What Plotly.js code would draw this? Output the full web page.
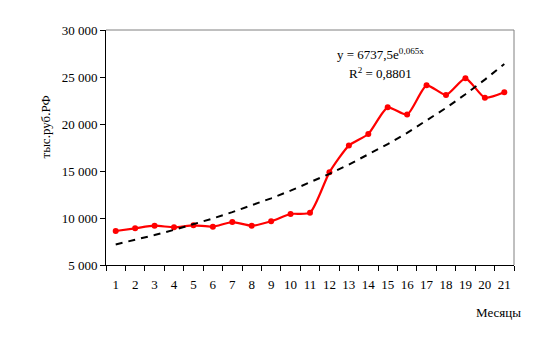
<!DOCTYPE html>
<html><head><meta charset="utf-8">
<script src="https://cdn.plot.ly/plotly-3.0.1.min.js"></script>
<style>body{margin:0;background:#fff}#c{width:560px;height:356px}</style>
</head><body><div id="c"></div>
<script>
var months = ["1","2","3","4","5","6","7","8","9","10","11","12","13","14","15","16","17","18","19","20","21"];
var values = [8620, 8900, 9180, 9010, 9220, 9080, 9570, 9180, 9650, 10430, 10570, 14860, 17700, 18940, 21770, 21000, 24110, 23090, 24860, 22800, 23370];
var trend = [7190, 7673, 8188, 8738, 9325, 9951, 10620, 11333, 12094, 12906, 13773, 14698, 15685, 16738, 17862, 19062, 20342, 21708, 23166, 24722, 26382];
var yTicks = [5000, 10000, 15000, 20000, 25000, 30000];

var F = "Liberation Serif";
var data = [
  {x: months, y: values, type: "scatter", mode: "lines+markers", line: {color: "#ff0000", width: 2.2, shape: "spline", smoothing: 0.6}, marker: {color: "#ff0000", size: 6, symbol: "circle"}, hoverinfo: "skip"},
  {x: months, y: trend, type: "scatter", mode: "lines", line: {color: "#000000", width: 2, dash: "7px,6px"}, hoverinfo: "skip"}
];
var layout = {
  width: 560, height: 356,
  margin: {l: 106, r: 46, t: 30, b: 91},
  paper_bgcolor: "#fff", plot_bgcolor: "#fff",
  separators: ", ",
  showlegend: false,
  font: {family: F, size: 13, color: "#000"},
  xaxis: {type: "category", range: [-0.5, 20.5], tickson: "boundaries", ticks: "outside", ticklen: 5, tickcolor: "#000",
    showline: true, linecolor: "#000", linewidth: 1, showgrid: false, zeroline: false, ticklabelstandoff: 7, tickangle: 0,
    tickfont: {family: F, size: 13, color: "#000"}},
  yaxis: {range: [5000, 30000], tickvals: yTicks, tickformat: ",d", ticks: "outside", ticklen: 5, tickcolor: "#000",
    showline: true, linecolor: "#000", linewidth: 1, showgrid: false, zeroline: false,
    tickfont: {family: F, size: 13, color: "#000"}},
  shapes: [
    {type: "line", xref: "paper", yref: "paper", x0: 0, x1: 1, y0: 1, y1: 1, line: {color: "#808080", width: 1}},
    {type: "line", xref: "paper", yref: "paper", x0: 1, x1: 1, y0: 0, y1: 1, line: {color: "#808080", width: 1}}
  ],
  annotations: [
    {text: "y = 6737,5e<sup>0,065x</sup>", xref: "paper", yref: "paper", x: 0.674, y: 0.9, xanchor: "center", yanchor: "middle", showarrow: false, font: {family: F, size: 13, color: "#000"}},
    {text: "R<sup>2</sup> = 0,8801", xref: "paper", yref: "paper", x: 0.674, y: 0.815, xanchor: "center", yanchor: "middle", showarrow: false, font: {family: F, size: 13, color: "#000"}},
    {text: "Месяцы", xref: "paper", yref: "paper", x: 0.961, y: -0.2, xanchor: "center", yanchor: "middle", showarrow: false, font: {family: F, size: 13, color: "#000"}},
    {text: "тыс.руб.РФ", xref: "paper", yref: "paper", x: -0.147, y: 0.585, xanchor: "center", yanchor: "middle", textangle: -90, showarrow: false, font: {family: F, size: 13, color: "#000"}}
  ]
};
Plotly.newPlot("c", data, layout, {staticPlot: true});
</script></body></html>
